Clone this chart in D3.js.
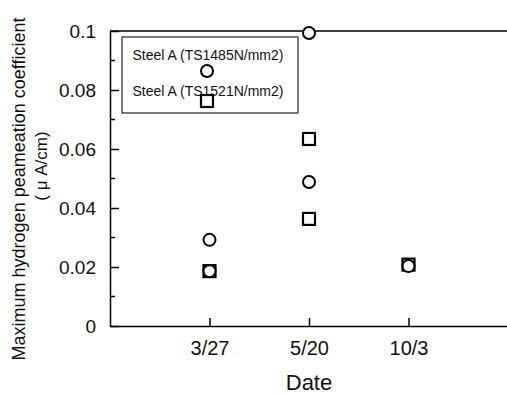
<script src="https://d3js.org/d3.v7.min.js"></script>

<style type="text/css">
  body { margin: 0; background: #fff; }
  svg { width: 507px; height: 395px; font-family: "Liberation Sans", Arial, sans-serif; }
  .axis path, .axis line { stroke: #000; stroke-width: 1.5; }
  .axis text { font-size: 19px; fill: #111; }
</style>

<body></body>

<script>
  // data
  var dates = ["3/27", "5/20", "10/3"];
  var circleDate  = ["3/27", "3/27", "5/20", "5/20", "10/3"];
  var circleValue = [0.0292, 0.0186, 0.0993, 0.0488, 0.0203];
  var squareDate  = ["3/27", "5/20", "5/20", "10/3"];
  var squareValue = [0.0186, 0.0634, 0.0363, 0.0208];
  var yTicks = [0, 0.02, 0.04, 0.06, 0.08, 0.1];
  var yMinor = [0.01, 0.03, 0.05, 0.07, 0.09];
  var legendLabels = ["Steel A (TS1485N/mm2)", "Steel A (TS1521N/mm2)"];

  var width = 507, height = 395;
  var margin = {top: 31, bottom: 69, left: 110, right: 0};
  var svg = d3.select('body').append('svg')
    .attr('width', width).attr('height', height);

  // scales
  var xScale = d3.scaleLinear()
    .domain([0, dates.length + 1])
    .range([margin.left, 508]);
  var xPos = function(d) { return xScale(dates.indexOf(d) + 1); };
  var yScale = d3.scaleLinear()
    .domain([0, 0.1])
    .range([height - margin.bottom, margin.top]);

  // top frame line
  svg.append('line')
    .attr('x1', margin.left).attr('x2', width)
    .attr('y1', yScale(0.1)).attr('y2', yScale(0.1))
    .attr('stroke', '#000').attr('stroke-width', 1.5);

  // y axis
  var yAxis = svg.append('g').attr('class', 'axis')
    .attr('transform', 'translate(' + [margin.left, 0] + ')')
    .call(d3.axisLeft(yScale).tickValues(yTicks)
      .tickFormat(function(d) { return d3.format('')(+d.toFixed(2)); })
      .tickSize(-9).tickSizeOuter(0).tickPadding(14));
  yAxis.selectAll('text').attr('dy', '0.36em');
  yAxis.append('g').selectAll('line')
    .data(yMinor).enter().append('line')
    .attr('x1', 0).attr('x2', 5)
    .attr('y1', yScale).attr('y2', yScale);

  // x axis
  var xAxis = svg.append('g').attr('class', 'axis')
    .attr('transform', 'translate(' + [0, height - margin.bottom] + ')')
    .call(d3.axisBottom(xScale).tickValues([1, 2, 3])
      .tickFormat(function(d) { return dates[d - 1]; })
      .tickSize(-8).tickSizeOuter(0).tickPadding(15));
  xAxis.selectAll('text').style('font-size', '20px');

  // axis titles
  svg.append('text')
    .attr('x', xScale(2)).attr('y', 390)
    .attr('text-anchor', 'middle')
    .style('font-size', '22px').attr('fill', '#111')
    .text('Date');
  svg.append('text')
    .attr('transform', 'translate(25,189) rotate(-90)')
    .attr('text-anchor', 'middle')
    .style('font-size', '18px').attr('fill', '#111')
    .text('Maximum hydrogen peameation coefficient');
  svg.append('text')
    .attr('transform', 'translate(47,166) rotate(-90)')
    .attr('text-anchor', 'middle')
    .style('font-size', '17px').attr('fill', '#111')
    .text('( μ A/cm)');

  // markers
  var sq = 12;
  function square(g, x, y) {
    g.append('rect')
      .attr('x', x - sq / 2).attr('y', y - sq / 2)
      .attr('width', sq).attr('height', sq)
      .attr('fill', '#fff').attr('stroke', '#000').attr('stroke-width', 2.2);
  }
  function circle(g, x, y) {
    g.append('circle')
      .attr('cx', x).attr('cy', y).attr('r', 6)
      .attr('fill', '#fff').attr('stroke', '#000').attr('stroke-width', 2);
  }

  var pts = svg.append('g');
  squareDate.forEach(function(d, i) { square(pts, xPos(d), yScale(squareValue[i])); });
  circleDate.forEach(function(d, i) { circle(pts, xPos(d), yScale(circleValue[i])); });

  // legend
  var lg = svg.append('g');
  lg.append('rect')
    .attr('x', 122).attr('y', 37).attr('width', 176).attr('height', 76)
    .attr('fill', '#fff').attr('stroke', '#222').attr('stroke-width', 1.2);
  lg.selectAll('text').data(legendLabels).enter().append('text')
    .attr('x', 208).attr('y', function(d, i) { return 60 + i * 36; })
    .attr('text-anchor', 'middle')
    .style('font-size', '14px').attr('fill', '#111')
    .text(function(d) { return d; });
  circle(lg, 207, 71);
  square(lg, 207, 101);
</script>
